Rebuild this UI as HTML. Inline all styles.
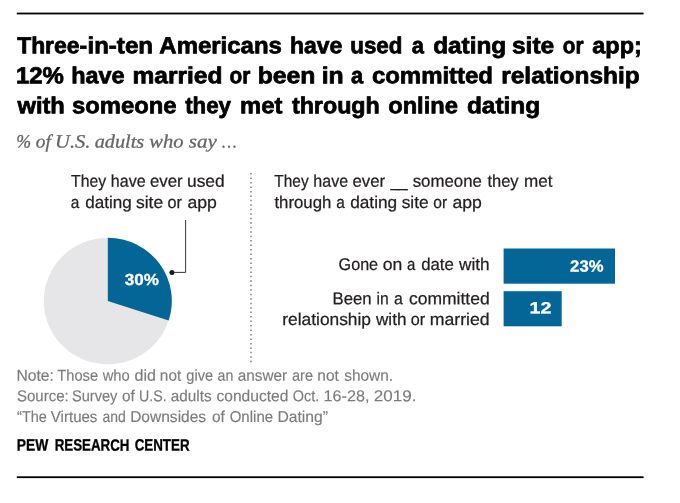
<!DOCTYPE html>
<html><head><meta charset="utf-8"><title>Pew chart</title>
<style>
html,body{margin:0;padding:0;background:#fff;}
body{width:680px;height:503px;overflow:hidden;position:relative;}
svg{position:absolute;left:0;top:0;display:block;}
text{white-space:pre;text-rendering:geometricPrecision;}
.t{font-family:"Liberation Sans",sans-serif;font-size:23.1px;font-weight:bold;fill:#000;stroke:#000;stroke-width:0.75px;}
.s{font-family:"Liberation Serif",serif;font-size:18.8px;font-style:italic;fill:#666;stroke:#666;stroke-width:0.3px;}
.l{font-family:"Liberation Sans",sans-serif;font-size:17px;fill:#231f20;stroke:#231f20;stroke-width:0.25px;}
.n{font-family:"Liberation Sans",sans-serif;font-size:15.8px;fill:#7c7c7c;stroke:#7c7c7c;stroke-width:0.15px;}
.v{font-family:"Liberation Sans",sans-serif;font-size:16px;font-weight:bold;fill:#fff;stroke:#fff;stroke-width:0.3px;}
.p{font-family:"Liberation Sans",sans-serif;font-size:16.4px;font-weight:bold;fill:#000;stroke:#000;stroke-width:0.3px;}
</style></head><body>
<svg width="680" height="503" viewBox="0 0 680 503">
<rect x="16.8" y="12.6" width="626.8" height="1.8" fill="#000"/>
<line x1="251" y1="173.05" x2="251" y2="363" stroke="#7d7d7d" stroke-width="1.5" stroke-dasharray="1.5 2.97"/>
<ellipse cx="107.8" cy="301.0" rx="64.0" ry="63.2" fill="#e6e6e8"/>
<path d="M107.8 301.0 L107.8 237.8 A64.0 63.2 0 0 1 168.67 320.53 Z" fill="#046597"/>
<path d="M172 272.4 H185.6 V220" fill="none" stroke="#3a3535" stroke-width="1"/>
<circle cx="171.9" cy="272.4" r="2.5" fill="#1a1a1a"/>
<rect x="503.6" y="248.5" width="111.4" height="35.2" fill="#046597"/>
<rect x="503.6" y="291.2" width="58.1" height="35.1" fill="#046597"/>
<text class="t" transform="rotate(0.04 17.18 53.2)"><tspan x="17.18" y="53.20" textLength="69.83" lengthAdjust="spacingAndGlyphs">Three-</tspan><tspan x="87.52" y="53.15" textLength="29.23" lengthAdjust="spacingAndGlyphs">in-</tspan><tspan x="116.87" y="53.13" textLength="36.23" lengthAdjust="spacingAndGlyphs">ten</tspan> <tspan x="159.36" y="53.10" textLength="122.50" lengthAdjust="spacingAndGlyphs">Americans</tspan> <tspan x="290.03" y="53.01" textLength="52.33" lengthAdjust="spacingAndGlyphs">have</tspan> <tspan x="350.27" y="52.97" textLength="52.06" lengthAdjust="spacingAndGlyphs">used</tspan> <tspan x="411.81" y="52.92" textLength="12.17" lengthAdjust="spacingAndGlyphs">a</tspan> <tspan x="433.18" y="52.91" textLength="73.04" lengthAdjust="spacingAndGlyphs">dating</tspan> <tspan x="512.03" y="52.85" textLength="42.14" lengthAdjust="spacingAndGlyphs">site</tspan> <tspan x="562.82" y="52.82" textLength="20.66" lengthAdjust="spacingAndGlyphs">or</tspan> <tspan x="592.26" y="52.80" textLength="49.59" lengthAdjust="spacingAndGlyphs">app;</tspan></text>
<text class="t" transform="rotate(0.04 15.92 83.2)"><tspan x="15.92" y="83.20" textLength="48.01" lengthAdjust="spacingAndGlyphs">12%</tspan> <tspan x="71.25" y="83.16" textLength="53.38" lengthAdjust="spacingAndGlyphs">have</tspan> <tspan x="132.53" y="83.12" textLength="89.95" lengthAdjust="spacingAndGlyphs">married</tspan> <tspan x="229.46" y="83.05" textLength="20.82" lengthAdjust="spacingAndGlyphs">or</tspan> <tspan x="257.77" y="83.03" textLength="57.66" lengthAdjust="spacingAndGlyphs">been</tspan> <tspan x="321.66" y="82.99" textLength="21.97" lengthAdjust="spacingAndGlyphs">in</tspan> <tspan x="351.06" y="82.97" textLength="12.17" lengthAdjust="spacingAndGlyphs">a</tspan> <tspan x="371.94" y="82.95" textLength="121.00" lengthAdjust="spacingAndGlyphs">committed</tspan> <tspan x="501.29" y="82.86" textLength="138.30" lengthAdjust="spacingAndGlyphs">relationship</tspan></text>
<text class="t" transform="rotate(0.04 17.48 113.2)"><tspan x="17.48" y="113.20" textLength="47.34" lengthAdjust="spacingAndGlyphs">with</tspan> <tspan x="72.05" y="113.16" textLength="104.34" lengthAdjust="spacingAndGlyphs">someone</tspan> <tspan x="185.18" y="113.08" textLength="45.74" lengthAdjust="spacingAndGlyphs">they</tspan> <tspan x="240.08" y="113.04" textLength="42.24" lengthAdjust="spacingAndGlyphs">met</tspan> <tspan x="291.92" y="113.01" textLength="87.87" lengthAdjust="spacingAndGlyphs">through</tspan> <tspan x="388.20" y="112.94" textLength="69.69" lengthAdjust="spacingAndGlyphs">online</tspan> <tspan x="466.92" y="112.89" textLength="73.30" lengthAdjust="spacingAndGlyphs">dating</tspan></text>
<text class="s" transform="rotate(0.04 16.30 147.6)"><tspan x="16.30" y="147.60" textLength="14.85" lengthAdjust="spacingAndGlyphs">%</tspan> <tspan x="35.73" y="147.59" textLength="15.07" lengthAdjust="spacingAndGlyphs">of</tspan> <tspan x="55.09" y="147.57" textLength="35.41" lengthAdjust="spacingAndGlyphs">U.S.</tspan> <tspan x="94.66" y="147.55" textLength="49.55" lengthAdjust="spacingAndGlyphs">adults</tspan> <tspan x="149.31" y="147.51" textLength="34.28" lengthAdjust="spacingAndGlyphs">who</tspan> <tspan x="188.73" y="147.48" textLength="28.06" lengthAdjust="spacingAndGlyphs">say</tspan> <tspan x="221.93" y="147.46" textLength="14.58" lengthAdjust="spacingAndGlyphs">…</tspan></text>
<text class="l" transform="rotate(0.04 71.10 186.7)"><tspan x="71.10" y="186.70" textLength="35.03" lengthAdjust="spacingAndGlyphs">They</tspan> <tspan x="110.84" y="186.67" textLength="34.75" lengthAdjust="spacingAndGlyphs">have</tspan> <tspan x="149.93" y="186.64" textLength="32.70" lengthAdjust="spacingAndGlyphs">ever</tspan> <tspan x="187.00" y="186.62" textLength="37.70" lengthAdjust="spacingAndGlyphs">used</tspan></text>
<text class="l" transform="rotate(0.04 70.74 208)"><tspan x="70.74" y="208.00" textLength="8.60" lengthAdjust="spacingAndGlyphs">a</tspan> <tspan x="85.17" y="207.99" textLength="46.51" lengthAdjust="spacingAndGlyphs">dating</tspan> <tspan x="135.96" y="207.95" textLength="27.19" lengthAdjust="spacingAndGlyphs">site</tspan> <tspan x="167.46" y="207.93" textLength="14.42" lengthAdjust="spacingAndGlyphs">or</tspan> <tspan x="187.40" y="207.92" textLength="29.40" lengthAdjust="spacingAndGlyphs">app</tspan></text>
<text class="l" transform="rotate(0.04 274.35 186.7)"><tspan x="274.35" y="186.70" textLength="34.27" lengthAdjust="spacingAndGlyphs">They</tspan> <tspan x="313.34" y="186.67" textLength="34.75" lengthAdjust="spacingAndGlyphs">have</tspan> <tspan x="352.43" y="186.65" textLength="32.70" lengthAdjust="spacingAndGlyphs">ever</tspan> <tspan x="390.40" y="186.62" textLength="17.25" lengthAdjust="spacingAndGlyphs">__</tspan> <tspan x="412.73" y="186.60" textLength="69.14" lengthAdjust="spacingAndGlyphs">someone</tspan> <tspan x="487.43" y="186.55" textLength="31.19" lengthAdjust="spacingAndGlyphs">they</tspan> <tspan x="524.02" y="186.53" textLength="28.48" lengthAdjust="spacingAndGlyphs">met</tspan></text>
<text class="l" transform="rotate(0.04 274.43 208)"><tspan x="274.43" y="208.00" textLength="56.99" lengthAdjust="spacingAndGlyphs">through</tspan> <tspan x="336.24" y="207.96" textLength="8.60" lengthAdjust="spacingAndGlyphs">a</tspan> <tspan x="350.16" y="207.95" textLength="47.03" lengthAdjust="spacingAndGlyphs">dating</tspan> <tspan x="401.72" y="207.91" textLength="26.93" lengthAdjust="spacingAndGlyphs">site</tspan> <tspan x="433.23" y="207.89" textLength="13.88" lengthAdjust="spacingAndGlyphs">or</tspan> <tspan x="452.40" y="207.88" textLength="29.40" lengthAdjust="spacingAndGlyphs">app</tspan></text>
<text class="l" transform="rotate(0.04 338.62 270)"><tspan x="338.62" y="270.00" textLength="39.48" lengthAdjust="spacingAndGlyphs">Gone</tspan> <tspan x="382.65" y="269.97" textLength="19.57" lengthAdjust="spacingAndGlyphs">on</tspan> <tspan x="407.01" y="269.95" textLength="8.33" lengthAdjust="spacingAndGlyphs">a</tspan> <tspan x="421.18" y="269.94" textLength="32.69" lengthAdjust="spacingAndGlyphs">date</tspan> <tspan x="458.98" y="269.92" textLength="30.72" lengthAdjust="spacingAndGlyphs">with</tspan></text>
<text class="l" transform="rotate(0.04 332.60 304.3)"><tspan x="332.60" y="304.30" textLength="39.07" lengthAdjust="spacingAndGlyphs">Been</tspan> <tspan x="376.61" y="304.27" textLength="12.24" lengthAdjust="spacingAndGlyphs">in</tspan> <tspan x="393.97" y="304.26" textLength="8.86" lengthAdjust="spacingAndGlyphs">a</tspan> <tspan x="408.90" y="304.25" textLength="80.81" lengthAdjust="spacingAndGlyphs">committed</tspan></text>
<text class="l" transform="rotate(0.04 282.25 325)"><tspan x="282.25" y="325.00" textLength="88.79" lengthAdjust="spacingAndGlyphs">relationship</tspan> <tspan x="375.98" y="324.93" textLength="30.46" lengthAdjust="spacingAndGlyphs">with</tspan> <tspan x="410.71" y="324.91" textLength="14.42" lengthAdjust="spacingAndGlyphs">or</tspan> <tspan x="429.73" y="324.90" textLength="59.99" lengthAdjust="spacingAndGlyphs">married</tspan></text>
<text class="n" transform="rotate(0.04 16.39 380.8)"><tspan x="16.39" y="380.80" textLength="37.42" lengthAdjust="spacingAndGlyphs">Note:</tspan> <tspan x="57.30" y="380.77" textLength="40.77" lengthAdjust="spacingAndGlyphs">Those</tspan> <tspan x="102.67" y="380.74" textLength="27.05" lengthAdjust="spacingAndGlyphs">who</tspan> <tspan x="134.46" y="380.72" textLength="21.47" lengthAdjust="spacingAndGlyphs">did</tspan> <tspan x="159.85" y="380.70" textLength="21.41" lengthAdjust="spacingAndGlyphs">not</tspan> <tspan x="186.27" y="380.68" textLength="26.79" lengthAdjust="spacingAndGlyphs">give</tspan> <tspan x="217.54" y="380.66" textLength="15.77" lengthAdjust="spacingAndGlyphs">an</tspan> <tspan x="237.74" y="380.65" textLength="49.44" lengthAdjust="spacingAndGlyphs">answer</tspan> <tspan x="292.02" y="380.61" textLength="21.04" lengthAdjust="spacingAndGlyphs">are</tspan> <tspan x="317.35" y="380.59" textLength="21.41" lengthAdjust="spacingAndGlyphs">not</tspan> <tspan x="344.18" y="380.57" textLength="48.85" lengthAdjust="spacingAndGlyphs">shown.</tspan></text>
<text class="n" transform="rotate(0.04 16.91 401.2)"><tspan x="16.91" y="401.20" textLength="51.84" lengthAdjust="spacingAndGlyphs">Source:</tspan> <tspan x="71.93" y="401.16" textLength="45.50" lengthAdjust="spacingAndGlyphs">Survey</tspan> <tspan x="121.99" y="401.13" textLength="12.83" lengthAdjust="spacingAndGlyphs">of</tspan> <tspan x="138.99" y="401.11" textLength="27.68" lengthAdjust="spacingAndGlyphs">U.S.</tspan> <tspan x="170.74" y="401.09" textLength="40.92" lengthAdjust="spacingAndGlyphs">adults</tspan> <tspan x="216.48" y="401.06" textLength="71.92" lengthAdjust="spacingAndGlyphs">conducted</tspan> <tspan x="292.68" y="401.01" textLength="26.51" lengthAdjust="spacingAndGlyphs">Oct.</tspan> <tspan x="323.55" y="400.99" textLength="45.90" lengthAdjust="spacingAndGlyphs">16-28,</tspan> <tspan x="373.82" y="400.95" textLength="42.60" lengthAdjust="spacingAndGlyphs">2019.</tspan></text>
<text class="n" transform="rotate(0.04 17.12 422)"><tspan x="17.12" y="422.00" textLength="29.68" lengthAdjust="spacingAndGlyphs">“The</tspan> <tspan x="50.83" y="421.98" textLength="46.58" lengthAdjust="spacingAndGlyphs">Virtues</tspan> <tspan x="102.55" y="421.94" textLength="23.25" lengthAdjust="spacingAndGlyphs">and</tspan> <tspan x="130.14" y="421.92" textLength="76.02" lengthAdjust="spacingAndGlyphs">Downsides</tspan> <tspan x="211.99" y="421.86" textLength="12.83" lengthAdjust="spacingAndGlyphs">of</tspan> <tspan x="229.71" y="421.85" textLength="43.37" lengthAdjust="spacingAndGlyphs">Online</tspan> <tspan x="277.38" y="421.82" textLength="50.60" lengthAdjust="spacingAndGlyphs">Dating”</tspan></text>
<text class="p" transform="rotate(0.04 16.81 450.6)"><tspan x="16.81" y="450.60" textLength="31.53" lengthAdjust="spacingAndGlyphs">PEW</tspan> <tspan x="54.64" y="450.57" textLength="74.81" lengthAdjust="spacingAndGlyphs">RESEARCH</tspan> <tspan x="134.66" y="450.52" textLength="54.89" lengthAdjust="spacingAndGlyphs">CENTER</tspan></text>
<text class="v" transform="rotate(0.04 124.83 285)"><tspan x="124.83" y="285.00" textLength="34.12" lengthAdjust="spacingAndGlyphs">30%</tspan></text>
<text class="v" transform="rotate(0.04 570.13 271.6)"><tspan x="570.13" y="271.60" textLength="33.31" lengthAdjust="spacingAndGlyphs">23%</tspan></text>
<text class="v" transform="rotate(0.04 529.52 313.3)"><tspan x="529.52" y="313.30" textLength="21.81" lengthAdjust="spacingAndGlyphs">12</tspan></text>
<rect x="16.8" y="476.3" width="626.8" height="1.8" fill="#000"/>
</svg>
</body></html>
